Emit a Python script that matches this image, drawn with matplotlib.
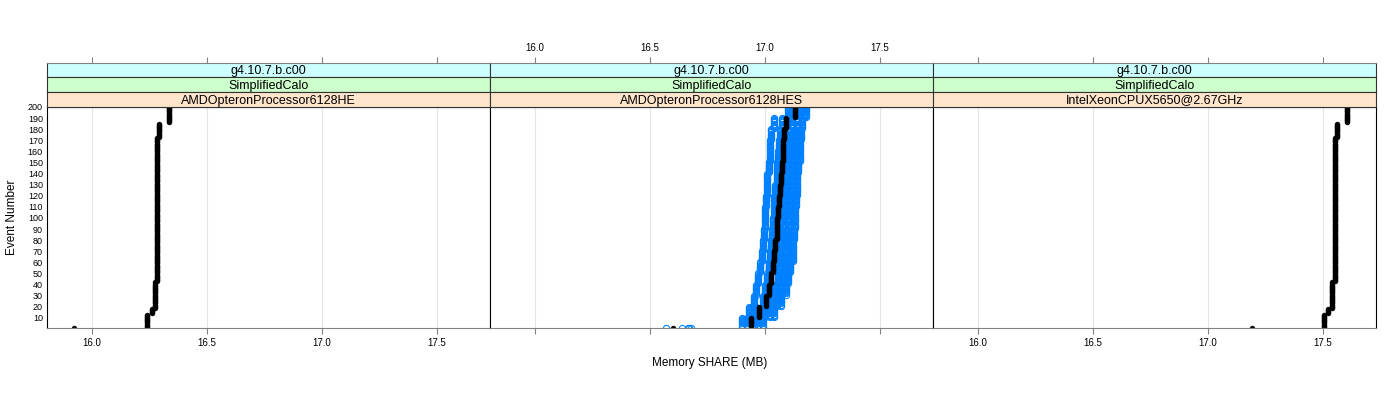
import numpy as np
import matplotlib
matplotlib.use("Agg")
import matplotlib.pyplot as plt

plt.rcParams['font.family'] = ['Liberation Sans', 'DejaVu Sans']

# Strip labels (one set per panel)
versions = ["g4.10.7.b.c00", "g4.10.7.b.c00", "g4.10.7.b.c00"]
tests = ["SimplifiedCalo", "SimplifiedCalo", "SimplifiedCalo"]
cpus = ["AMDOpteronProcessor6128HE", "AMDOpteronProcessor6128HES",
        "IntelXeonCPUX5650@2.67GHz"]

# Panel 1 / 3 reference runs: (memory value, number of consecutive events)
p1_values = [15.92, 16.238, 16.26, 16.275, 16.284, 16.293, 16.336]
p1_counts = [1, 12, 5, 24, 130, 13, 15]
p3_values = [17.19, 17.505, 17.52, 17.54, 17.55, 17.56, 17.605]
p3_counts = [1, 12, 5, 24, 130, 13, 15]

# Panel 2: event 1, then blocks of events 2-10, 11-20, ..., 191-200
block_counts = [1, 9] + [10] * 19
p2_black = [16.60, 16.94, 16.975, 17.005, 17.018, 17.027, 17.034, 17.04, 17.045,
            17.05, 17.053, 17.057, 17.06, 17.064, 17.068, 17.072, 17.076, 17.08,
            17.084, 17.09, 17.13]
p2_blue = [
    [16.57, 16.90, 16.93, 16.95, 16.96, 16.97, 16.98, 16.985, 16.99, 16.995, 17.0,
     17.0, 17.005, 17.01, 17.01, 17.015, 17.02, 17.02, 17.025, 17.04, 17.10],
    [16.64, 16.92, 16.96, 16.99, 17.0, 17.01, 17.015, 17.02, 17.025, 17.03, 17.035,
     17.04, 17.04, 17.045, 17.05, 17.05, 17.055, 17.06, 17.065, 17.075, 17.115],
    [16.665, 16.95, 17.0, 17.03, 17.045, 17.055, 17.06, 17.065, 17.07, 17.075, 17.08,
     17.08, 17.085, 17.09, 17.09, 17.095, 17.1, 17.1, 17.105, 17.115, 17.15],
    [16.67, 16.97, 17.02, 17.05, 17.07, 17.08, 17.09, 17.095, 17.1, 17.1, 17.105,
     17.11, 17.11, 17.115, 17.12, 17.12, 17.125, 17.13, 17.13, 17.14, 17.17],
    [16.68, 16.99, 17.04, 17.07, 17.09, 17.1, 17.11, 17.12, 17.12, 17.125, 17.13,
     17.13, 17.135, 17.14, 17.14, 17.145, 17.15, 17.15, 17.155, 17.16, 17.18],
]

xticks = [16.0, 16.5, 17.0, 17.5]
yticks = list(range(10, 201, 10))
events = np.arange(1, 201)

W, H = 1400, 400
fig = plt.figure(figsize=(W / 100, H / 100), dpi=100)

left_px, right_px = 47, 1376
top_px, bot_px = 106.7, 328
strip_h = 14.7
pw = (right_px - left_px) / 3
strip_cols = ["#ccffff", "#ccffcc", "#ffe5cc"]
tick_col = "#808080"

series = [
    ([], np.repeat(p1_values, p1_counts)),
    ([np.repeat(b, block_counts) for b in p2_blue], np.repeat(p2_black, block_counts)),
    ([], np.repeat(p3_values, p3_counts)),
]

for i in range(3):
    x0 = left_px + i * pw
    ax = fig.add_axes([x0 / W, 1 - bot_px / H, pw / W, (bot_px - top_px) / H])
    blues, black = series[i]
    for b in blues:
        ax.plot(b, events, "o", ms=4.5, mfc="none", mec="#0080ff", mew=0.75)
    ax.plot(black, events, "o", ms=3.4, color="black", mec="black", mew=0.5)
    ax.set_xlim(15.804, 17.730)
    ax.set_ylim(0.9, 200.2)
    ax.set_xticks(xticks)
    for xt in xticks:
        ax.axvline(xt, color="#e6e6e6", lw=0.8, zorder=0)
    ax.tick_params(axis="x", direction="out", length=4, width=0.8,
                   color=tick_col, labelsize=7, pad=3)
    if i == 1:
        ax.tick_params(axis="x", labelbottom=False)
    else:
        ax.set_xticklabels([f"{t:.1f}" for t in xticks])
    ax.set_yticks(yticks)
    if i == 0:
        ax.set_yticklabels([str(t) for t in yticks])
        ax.tick_params(axis="y", length=0, labelsize=6.5, pad=3)
    else:
        ax.tick_params(axis="y", left=False, labelleft=False)
    for s in ax.spines.values():
        s.set_color("black")
        s.set_linewidth(0.8)
    ax.spines["bottom"].set_color(tick_col)

    # strips, top to bottom
    labels = [versions[i], tests[i], cpus[i]]
    for k in range(3):
        sy = top_px - (3 - k) * strip_h
        sax = fig.add_axes([x0 / W, 1 - (sy + strip_h) / H, pw / W, strip_h / H])
        sax.set_facecolor(strip_cols[k])
        sax.set_xlim(15.804, 17.730)
        sax.set_ylim(0, 1)
        sax.set_yticks([])
        sax.text(0.5, 0.42, labels[k], transform=sax.transAxes, ha="center",
                 va="center", fontsize=9)
        for s in sax.spines.values():
            s.set_color("#333333")
            s.set_linewidth(0.8)
        if k == 0:
            sax.spines["top"].set_color(tick_col)
            sax.xaxis.tick_top()
            sax.set_xticks(xticks)
            sax.tick_params(axis="x", direction="out", length=4, width=0.8,
                            color=tick_col, labelsize=7, pad=3, bottom=False)
            if i == 1:
                sax.set_xticklabels([f"{t:.1f}" for t in xticks])
            else:
                sax.tick_params(axis="x", labeltop=False)
        else:
            sax.set_xticks([])

fig.text(710 / W, 1 - 363 / H, "Memory SHARE (MB)", ha="center", va="center",
         fontsize=8.5)
fig.text(12 / W, 1 - 217 / H, "Event Number", ha="center", va="center",
         rotation=90, fontsize=8.5)

fig.savefig("out.png", dpi=100)
